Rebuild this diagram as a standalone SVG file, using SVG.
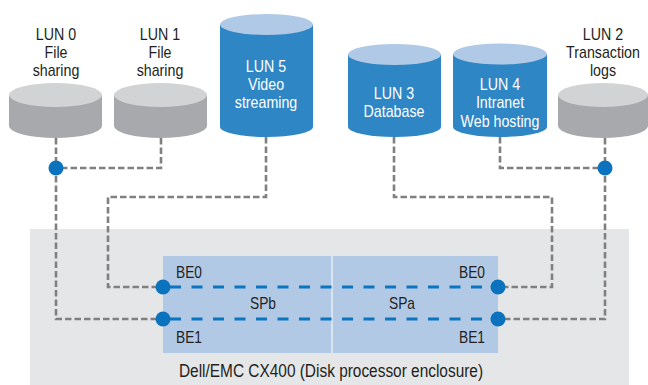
<svg xmlns="http://www.w3.org/2000/svg" width="648" height="385" viewBox="0 0 648 385">
  <style>
    text { font-family: "Liberation Sans", Arial, sans-serif; }
    .lbl { font-size: 16px; fill: #231f20; text-anchor: middle; }
    .wlbl { font-size: 16px; fill: #ffffff; text-anchor: middle; }
    .be { font-size: 16px; fill: #231f20; }
    .gside { fill: #a7a9ac; }
    .gtop { fill: #d1d3d4; }
    .bside { fill: #2e86c5; }
    .btop { fill: #b0c9e6; }
    .wire { fill: none; stroke: #808080; stroke-width: 2.6; stroke-dasharray: 6.5 3; }
    .bus { fill: none; stroke: #0a75c0; stroke-width: 3; stroke-dasharray: 11 10.5; }
    .dot { fill: #0b72bd; }
  </style>

  <!-- enclosure with the two storage processors -->
  <g id="enclosure">
    <rect x="30" y="229" width="599" height="156" fill="#e5e6e8"/>
    <rect x="163" y="256" width="335" height="97" fill="#b2c9e5"/>
    <line x1="332" y1="256" x2="332" y2="353" stroke="#ffffff" stroke-width="1"/>
    <text class="be" transform="translate(176 278) scale(0.86 1)">BE0</text>
    <text class="be" transform="translate(176 343) scale(0.86 1)">BE1</text>
    <text class="be" text-anchor="end" transform="translate(485 278) scale(0.86 1)">BE0</text>
    <text class="be" text-anchor="end" transform="translate(485 343) scale(0.86 1)">BE1</text>
    <text class="be" text-anchor="middle" transform="translate(263 309) scale(0.86 1)">SPb</text>
    <text class="be" text-anchor="middle" transform="translate(402 309) scale(0.86 1)">SPa</text>
    <text font-size="18" fill="#231f20" text-anchor="middle" transform="translate(331 377) scale(0.857 1)">Dell/EMC CX400 (Disk processor enclosure)</text>
  </g>

  <!-- connectors -->
  <g id="connectors">
    <polyline class="wire" points="56,138 56,319 163,319"/>
    <polyline class="wire" points="161,138 161,168 56,168"/>
    <polyline class="wire" points="266,137 266,197 108,197 108,287 163,287"/>
    <polyline class="wire" points="394,137 394,197 552,197 552,287 498,287"/>
    <polyline class="wire" points="500,137 500,168 605,168"/>
    <polyline class="wire" points="605,138 605,319 498,319"/>
    <line class="bus" x1="170" y1="287" x2="498" y2="287"/>
    <line class="bus" x1="170" y1="319" x2="498" y2="319"/>
    <circle class="dot" cx="56" cy="168" r="7.5"/>
    <circle class="dot" cx="605" cy="168" r="7.5"/>
    <circle class="dot" cx="163" cy="287" r="7.5"/>
    <circle class="dot" cx="163" cy="319" r="7.5"/>
    <circle class="dot" cx="498" cy="287" r="7.5"/>
    <circle class="dot" cx="498" cy="319" r="7.5"/>
  </g>

  <!-- LUN 0 -->
  <g id="lun0">
    <path class="gside" d="M9,95 L9,126 A46.5,12 0 0 0 102,126 L102,95 Z"/>
    <ellipse class="gtop" cx="55.5" cy="95" rx="46.5" ry="12"/>
    <g transform="translate(56 0) scale(0.89 1)">
      <text class="lbl" y="40">LUN 0</text>
      <text class="lbl" y="58">File</text>
      <text class="lbl" y="76">sharing</text>
    </g>
  </g>

  <!-- LUN 1 -->
  <g id="lun1">
    <path class="gside" d="M114,95 L114,126 A46.5,12 0 0 0 207,126 L207,95 Z"/>
    <ellipse class="gtop" cx="160.5" cy="95" rx="46.5" ry="12"/>
    <g transform="translate(160 0) scale(0.89 1)">
      <text class="lbl" y="40">LUN 1</text>
      <text class="lbl" y="58">File</text>
      <text class="lbl" y="76">sharing</text>
    </g>
  </g>

  <!-- LUN 5 -->
  <g id="lun5">
    <path class="bside" d="M220,24.5 L220,127 A46.5,10 0 0 0 313,127 L313,24.5 Z"/>
    <ellipse class="btop" cx="266.5" cy="24.5" rx="46.5" ry="10.5"/>
    <g transform="translate(266 0) scale(0.89 1)">
      <text class="wlbl" y="72">LUN 5</text>
      <text class="wlbl" y="90">Video</text>
      <text class="wlbl" y="108">streaming</text>
    </g>
  </g>

  <!-- LUN 3 -->
  <g id="lun3">
    <path class="bside" d="M348,54.5 L348,127 A46.5,10 0 0 0 441,127 L441,54.5 Z"/>
    <ellipse class="btop" cx="394.5" cy="54.5" rx="46.5" ry="10.5"/>
    <g transform="translate(394 0) scale(0.89 1)">
      <text class="wlbl" y="99">LUN 3</text>
      <text class="wlbl" y="117">Database</text>
    </g>
  </g>

  <!-- LUN 4 -->
  <g id="lun4">
    <path class="bside" d="M453,54 L453,127 A47,10 0 0 0 547,127 L547,54 Z"/>
    <ellipse class="btop" cx="500" cy="54" rx="47" ry="10.5"/>
    <g transform="translate(500 0) scale(0.89 1)">
      <text class="wlbl" y="90">LUN 4</text>
      <text class="wlbl" y="108">Intranet</text>
      <text class="wlbl" y="127">Web hosting</text>
    </g>
  </g>

  <!-- LUN 2 -->
  <g id="lun2">
    <path class="gside" d="M558,95 L558,126 A45,12 0 0 0 648,126 L648,95 Z"/>
    <ellipse class="gtop" cx="603" cy="95" rx="45" ry="12"/>
    <g transform="translate(603 0) scale(0.89 1)">
      <text class="lbl" y="40">LUN 2</text>
      <text class="lbl" y="58">Transaction</text>
      <text class="lbl" y="76">logs</text>
    </g>
  </g>
</svg>
